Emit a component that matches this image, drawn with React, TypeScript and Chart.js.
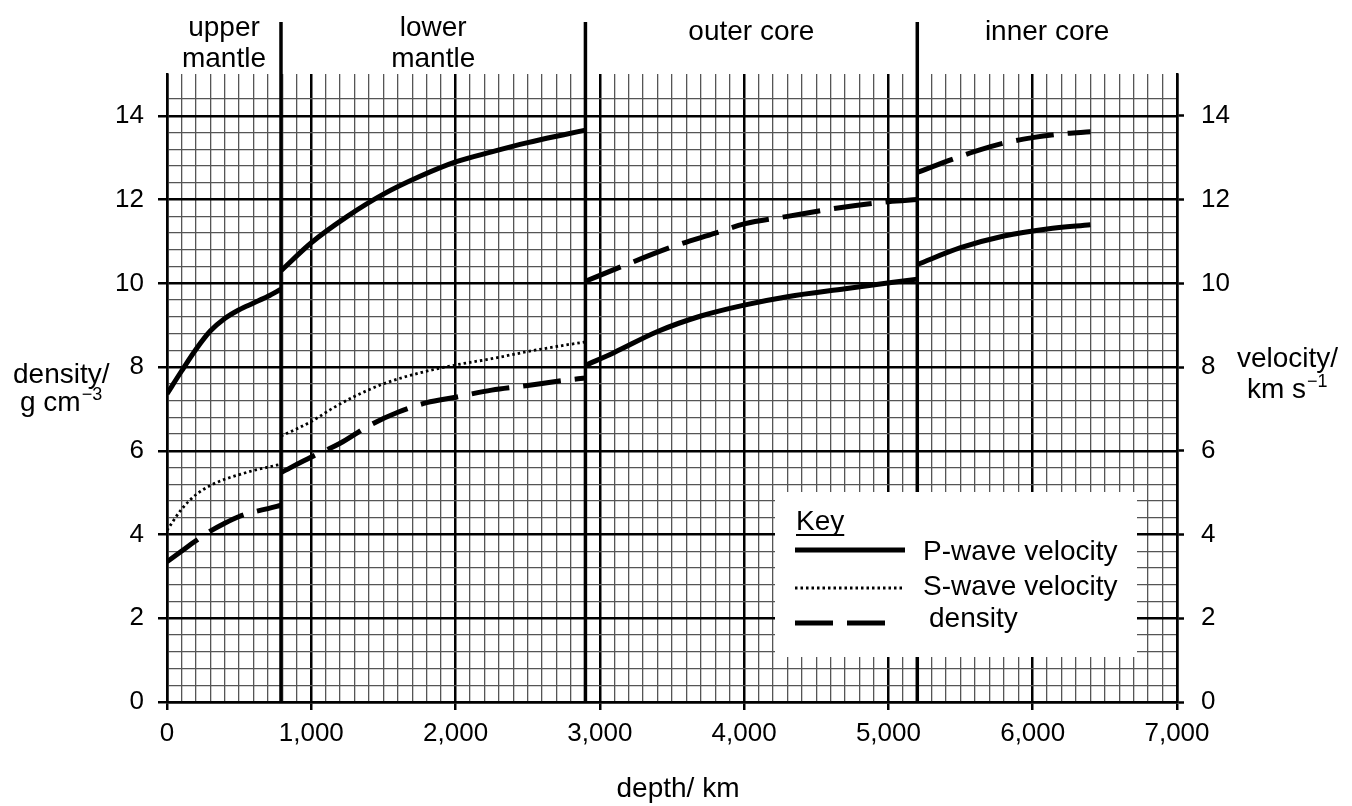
import React, { useEffect, useRef } from 'react';
import { Chart, registerables } from 'chart.js';

Chart.register(...registerables);

const FONT = "'Liberation Sans', Arial, Helvetica, sans-serif";

// ---- axes ----
const depthMin = 0;
const depthMax = 7000;
const valueMin = 0;
const valueMax = 15;
const depthMinorStep = 100;
const depthMajorStep = 1000;
const valueMinorStep = 0.4;
const valueMajorStep = 2;

// ---- layers ----
const layerBoundaries = [790, 2900, 5200];
const layerNames = [['upper', 'mantle'], ['lower', 'mantle'], ['outer core'], ['inner core']];

// ---- series (null = break at a layer boundary) ----
const pDepth = [0, 100, 200, 300, 400, 500, 600, 700, 790, 790, 790, 1000, 1250, 1500, 1750, 2000, 2250, 2500, 2750, 2900, 2900, 2900, 3100, 3400, 3700, 4000, 4300, 4700, 5200, 5200, 5200, 5500, 5800, 6100, 6400];
const pVelocity = [7.36, 7.9, 8.42, 8.86, 9.16, 9.37, 9.53, 9.69, 9.86, null, 10.3, 10.97, 11.6, 12.13, 12.55, 12.9, 13.14, 13.36, 13.55, 13.66, null, 8.04, 8.35, 8.85, 9.22, 9.48, 9.68, 9.87, 10.1, null, 10.45, 10.85, 11.13, 11.3, 11.4];

const sDepth = [0, 100, 200, 300, 400, 500, 600, 700, 790, 790, 790, 1000, 1150, 1300, 1500, 1750, 2000, 2250, 2500, 2750, 2900];
const sVelocity = [4.1, 4.6, 4.95, 5.17, 5.32, 5.43, 5.53, 5.61, 5.68, null, 6.35, 6.7, 7.02, 7.3, 7.6, 7.86, 8.05, 8.2, 8.37, 8.52, 8.6];

const rhoDepth = [0, 100, 200, 300, 400, 500, 600, 700, 790, 790, 790, 1000, 1200, 1400, 1600, 1800, 2000, 2250, 2500, 2750, 2900, 2900, 2900, 3150, 3500, 3800, 4000, 4300, 4650, 5000, 5200, 5200, 5200, 5450, 5600, 5800, 6000, 6200, 6400];
const density = [3.35, 3.6, 3.85, 4.08, 4.27, 4.43, 4.54, 4.62, 4.7, null, 5.48, 5.85, 6.18, 6.6, 6.92, 7.15, 7.28, 7.45, 7.56, 7.68, 7.74, null, 10.05, 10.4, 10.87, 11.2, 11.42, 11.6, 11.8, 11.95, 12.0, null, 12.65, 12.97, 13.15, 13.35, 13.48, 13.57, 13.62];

const seriesLabels = ['P-wave velocity', 'S-wave velocity', 'density'];

const toPoints = (xs: number[], ys: (number | null)[]) => xs.map((x, i) => ({ x, y: ys[i] }));

const near = (a: number, b: number) => Math.abs(a - b) < 1e-6;
const isMajorX = (v: number) => near(v / depthMajorStep, Math.round(v / depthMajorStep));
const isMajorY = (v: number) => near(v / valueMajorStep, Math.round(v / valueMajorStep)) && v < valueMax - 0.5;

const MINOR = '#555';
const gridColorX = (c: any) => (isMajorX(c.tick.value) ? '#000' : MINOR);
const gridWidthX = (c: any) => (isMajorX(c.tick.value) ? 2.5 : 1.3);
const gridColorY = (c: any) => (near(c.tick.value, valueMax) ? 'rgba(0,0,0,0)' : isMajorY(c.tick.value) ? '#000' : MINOR);
const gridWidthY = (c: any) => (isMajorY(c.tick.value) ? 2.5 : 1.3);
const tickColorX = (c: any) => (isMajorX(c.tick.value) ? '#000' : 'rgba(0,0,0,0)');
const tickColorY = (c: any) => (isMajorY(c.tick.value) ? '#000' : 'rgba(0,0,0,0)');

const decorPlugin = {
  id: 'decor',
  beforeDatasetsDraw(chart: any) {
    const { ctx, chartArea, scales } = chart;
    ctx.save();
    ctx.strokeStyle = '#000';
    ctx.lineWidth = 3.5;
    layerBoundaries.forEach((b) => {
      const x = scales.x.getPixelForValue(b);
      ctx.beginPath();
      ctx.moveTo(x, 22);
      ctx.lineTo(x, chartArea.bottom);
      ctx.stroke();
    });
    ctx.restore();
  },
  afterDraw(chart: any) {
    const { ctx, scales } = chart;
    ctx.save();
    ctx.fillStyle = '#000';
    ctx.textBaseline = 'alphabetic';
    ctx.font = `28px ${FONT}`;
    ctx.textAlign = 'center';
    // layer names
    const edges = [depthMin, ...layerBoundaries, depthMax];
    layerNames.forEach((lines, i) => {
      const cx = scales.x.getPixelForValue((edges[i] + edges[i + 1]) / 2);
      if (lines.length === 2) {
        ctx.fillText(lines[0], cx, 36);
        ctx.fillText(lines[1], cx, 67);
      } else {
        ctx.fillText(lines[0], cx, 40);
      }
    });
    // x title
    ctx.fillText('depth/ km', 678, 797);
    // left title
    ctx.textAlign = 'left';
    ctx.fillText('density/', 13, 383);
    ctx.fillText('g cm', 20, 411);
    let w = ctx.measureText('g cm').width;
    ctx.font = `18px ${FONT}`;
    ctx.fillText('\u22123', 20 + w + 1, 400);
    // right title
    ctx.font = `28px ${FONT}`;
    ctx.fillText('velocity/', 1237, 367);
    ctx.fillText('km s', 1247, 398);
    w = ctx.measureText('km s').width;
    ctx.font = `18px ${FONT}`;
    ctx.fillText('\u22121', 1247 + w + 1, 387);

    // key box
    const bx = 775, by = 492, bw = 362, bh = 165;
    ctx.fillStyle = '#fff';
    ctx.fillRect(bx, by, bw, bh);
    ctx.fillStyle = '#000';
    ctx.font = `28px ${FONT}`;
    ctx.fillText('Key', 796, 530);
    const kw = ctx.measureText('Key').width;
    ctx.lineWidth = 2;
    ctx.strokeStyle = '#000';
    ctx.beginPath();
    ctx.moveTo(796, 535);
    ctx.lineTo(796 + kw, 535);
    ctx.stroke();

    const rowsY = [550, 588, 623];
    const textY = [560, 595, 627];
    const textX = [923, 923, 929];
    chart.data.datasets.forEach((ds: any, i: number) => {
      ctx.save();
      ctx.strokeStyle = ds.borderColor;
      ctx.lineWidth = ds.borderWidth;
      ctx.setLineDash(ds.borderDash || []);
      ctx.beginPath();
      ctx.moveTo(795, rowsY[i]);
      ctx.lineTo(i === 2 ? 891 : 905, rowsY[i]);
      ctx.stroke();
      ctx.restore();
      ctx.fillText(ds.label, textX[i], textY[i]);
    });
    ctx.restore();
  },
};

export default function App() {
  const canvasRef = useRef<HTMLCanvasElement | null>(null);

  useEffect(() => {
    if (!canvasRef.current) return;
    const tickFont = { family: FONT, size: 26 };
    const chart = new Chart(canvasRef.current, {
      type: 'line',
      data: {
        datasets: [
          {
            label: seriesLabels[0],
            data: toPoints(pDepth, pVelocity),
            yAxisID: 'y1',
            borderColor: '#000',
            borderWidth: 5,
            pointRadius: 0,
            cubicInterpolationMode: 'monotone',
            spanGaps: false,
            fill: false,
          },
          {
            label: seriesLabels[1],
            data: toPoints(sDepth, sVelocity),
            yAxisID: 'y1',
            borderColor: '#000',
            borderWidth: 2.8,
            borderDash: [2.5, 3],
            pointRadius: 0,
            cubicInterpolationMode: 'monotone',
            spanGaps: false,
            fill: false,
          },
          {
            label: seriesLabels[2],
            data: toPoints(rhoDepth, density),
            yAxisID: 'y',
            borderColor: '#000',
            borderWidth: 5,
            borderDash: [38, 14],
            pointRadius: 0,
            cubicInterpolationMode: 'monotone',
            spanGaps: false,
            fill: false,
          },
        ] as any,
      },
      options: {
        responsive: false,
        animation: false,
        layout: { padding: { top: 74, left: 0, right: 0, bottom: 0 } },
        plugins: { legend: { display: false }, tooltip: { enabled: false } },
        scales: {
          x: {
            type: 'linear',
            min: depthMin,
            max: depthMax,
            ticks: {
              stepSize: depthMinorStep,
              autoSkip: false,
              maxRotation: 0,
              padding: 8,
              color: '#000',
              font: tickFont,
              callback: (v: any) => (isMajorX(Number(v)) ? Number(v).toLocaleString('en-US') : ''),
            },
            grid: { color: gridColorX, lineWidth: gridWidthX, tickColor: tickColorX, tickLength: 8, tickWidth: 2.5 },
            border: { color: '#000', width: 2.5 },
            afterFit: (s: any) => { s.height = 104; },
          },
          y: {
            type: 'linear',
            position: 'left',
            min: valueMin,
            max: valueMax,
            ticks: {
              stepSize: valueMinorStep,
              autoSkip: false,
              padding: 14,
              color: '#000',
              font: tickFont,
              callback: (v: any) => (isMajorY(Number(v)) ? String(Math.round(Number(v))) : ''),
            },
            grid: { color: gridColorY, lineWidth: gridWidthY, tickColor: tickColorY, tickLength: 9, tickWidth: 2.5 },
            border: { color: '#000', width: 2.5 },
            afterFit: (s: any) => { s.width = 167; },
          },
          y1: {
            type: 'linear',
            position: 'right',
            min: valueMin,
            max: valueMax,
            ticks: {
              stepSize: valueMinorStep,
              autoSkip: false,
              padding: 17,
              color: '#000',
              font: tickFont,
              callback: (v: any) => (isMajorY(Number(v)) ? String(Math.round(Number(v))) : ''),
            },
            grid: { drawOnChartArea: false, tickColor: tickColorY, tickLength: 7, tickWidth: 2.5 },
            border: { color: '#000', width: 2.5 },
            afterFit: (s: any) => { s.width = 175; },
          },
        },
      } as any,
      plugins: [decorPlugin],
    });
    return () => chart.destroy();
  }, []);

  return (
    <canvas
      ref={canvasRef}
      width={1352}
      height={806}
      style={{ position: 'absolute', left: 0, top: 0, display: 'block' }}
    />
  );
}
